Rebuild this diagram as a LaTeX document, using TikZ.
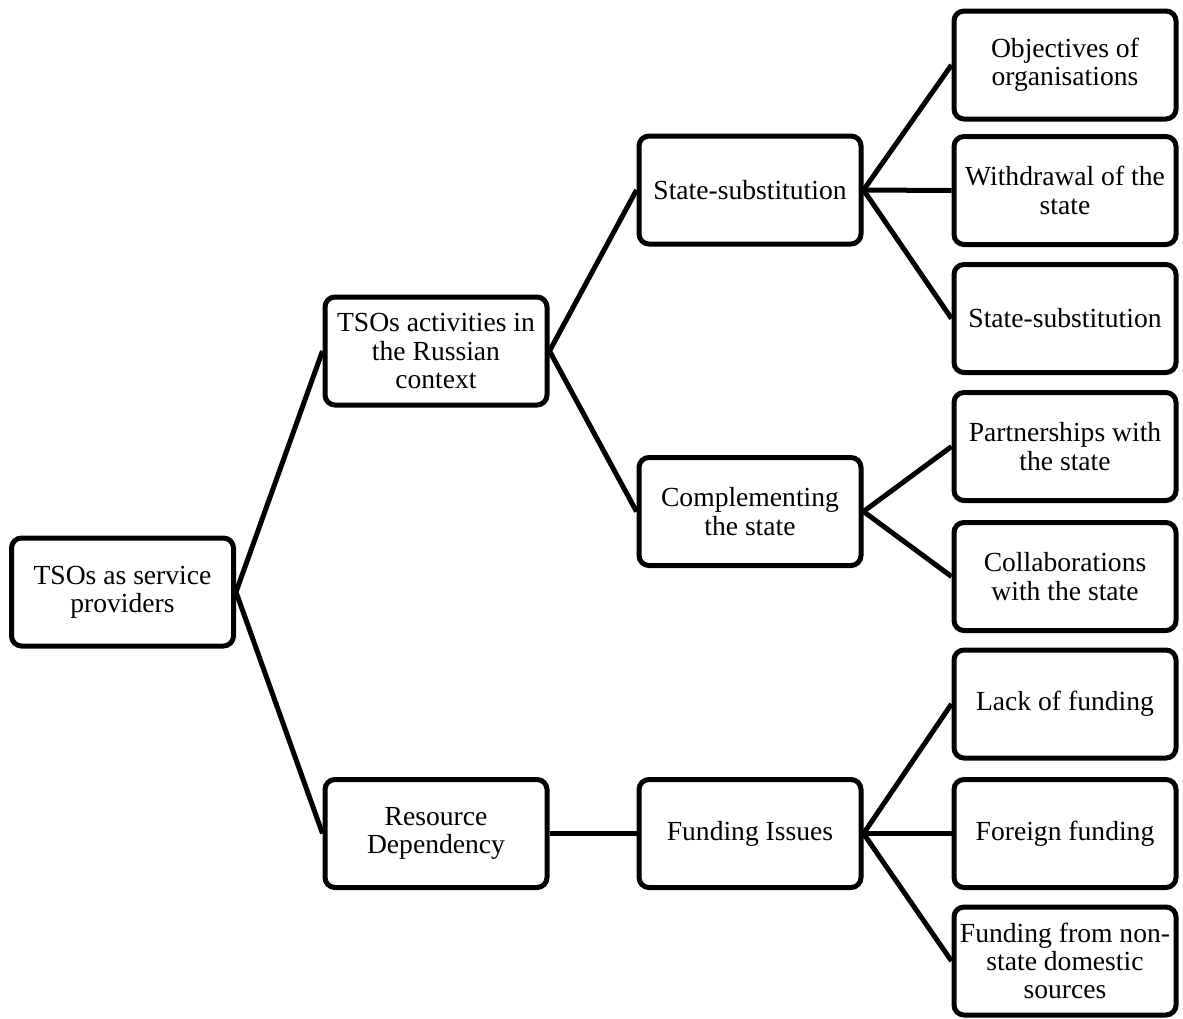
\documentclass[tikz,border=0pt]{standalone}
\usepackage{fontspec}
\setmainfont{Liberation Serif}

\begin{document}
\begin{tikzpicture}[x=0.5pt, y=-0.5pt,
  box/.style={draw, rectangle, rounded corners=5pt, line width=2.5pt,
    minimum width=111pt, minimum height=54pt, inner sep=1pt, align=center,
    font=\fontsize{13.8}{14.2}\selectfont},
  link/.style={line width=2.5pt}]
\useasboundingbox (0,0) rectangle (1183,1018);

\node[box] at (122.5,592) (providers) {TSOs as service\\providers};

\node[box] at (436,351) (activities) {TSOs activities in\\the Russian\\context};
\node[box] at (436,833.5) (resource) {Resource\\Dependency};

\node[box] at (750,190) (statesub) {State-substitution};
\node[box] at (750,511.5) (complementing) {Complementing\\the state};
\node[box] at (750,833.5) (funding) {Funding Issues};

\node[box] at (1065,65) (objectives) {Objectives of\\organisations};
\node[box] at (1065,190.5) (withdrawal) {Withdrawal of the\\state};
\node[box] at (1065,318.5) (substitution) {State-substitution};
\node[box] at (1065,446.5) (partnerships) {Partnerships with\\the state};
\node[box] at (1065,576.5) (collaborations) {Collaborations\\with the state};
\node[box] at (1065,704) (lack) {Lack of funding};
\node[box] at (1065,833.5) (foreign) {Foreign funding};
\node[box] at (1065,961) (nonstate) {Funding from non-\\state domestic\\sources};

\draw[link] (providers.east) -- (activities.west);
\draw[link] (providers.east) -- (resource.west);

\draw[link] (activities.east) -- (statesub.west);
\draw[link] (activities.east) -- (complementing.west);
\draw[link] (resource.east) -- (funding.west);

\draw[link] (statesub.east) -- (objectives.west);
\draw[link] (statesub.east) -- (withdrawal.west);
\draw[link] (statesub.east) -- (substitution.west);
\draw[link] (complementing.east) -- (partnerships.west);
\draw[link] (complementing.east) -- (collaborations.west);
\draw[link] (funding.east) -- (lack.west);
\draw[link] (funding.east) -- (foreign.west);
\draw[link] (funding.east) -- (nonstate.west);
\end{tikzpicture}
\end{document}
